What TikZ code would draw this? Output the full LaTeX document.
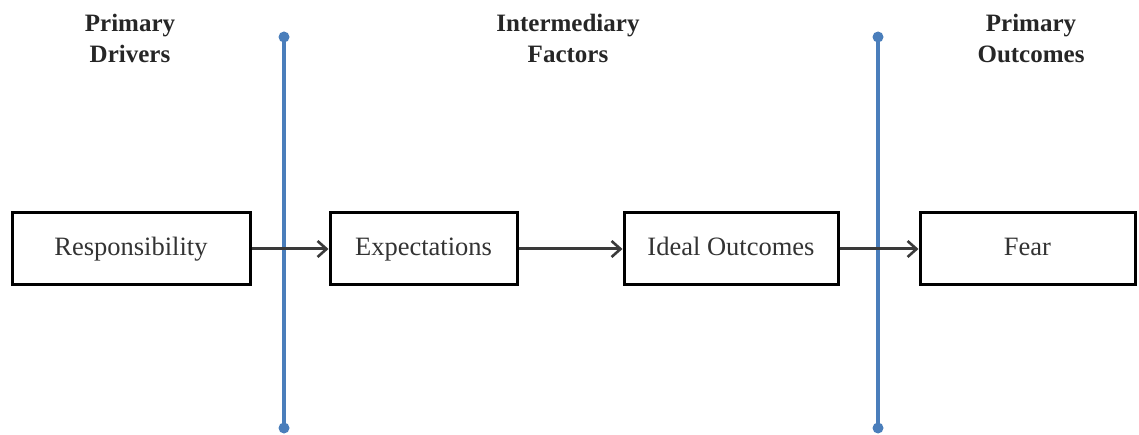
\documentclass[tikz,border=0pt]{standalone}
\usepackage{fontspec}
\setmainfont{Liberation Serif}
\usetikzlibrary{arrows.meta}
\definecolor{divider}{HTML}{4A7EBB}
\definecolor{linkgray}{HTML}{3A3A3A}
\begin{document}
\begin{tikzpicture}[x=1pt,y=-1pt,
  stage/.style={draw=black, line width=3pt, fill=white, inner sep=0pt,
    minimum height=72pt, text height=19pt, text depth=5pt,
    font=\fontsize{26.5}{30}\selectfont, text=black!80},
  heading/.style={align=center, font=\bfseries\fontsize{25}{31}\selectfont, text=black!85},
  link/.style={draw=linkgray, line width=3pt, -{Straight Barb[length=9pt,width=16pt,line width=2.6pt]}},
  divline/.style={draw=divider, line width=4pt},
  pin/.style={circle, fill=divider, inner sep=0pt, minimum size=11pt}]
\useasboundingbox (0,0) rectangle (1139,435);

% column headings
\node[heading] (hd1) at (130,38) {Primary\\Drivers};
\node[heading] (hd2) at (568,38) {Intermediary\\Factors};
\node[heading] (hd3) at (1031,38) {Primary\\Outcomes};

% dividers between the columns
\node[pin] (t1) at (284,37) {};
\node[pin] (b1) at (284,428) {};
\node[pin] (t2) at (878,37) {};
\node[pin] (b2) at (878,428) {};
\draw[divline] (t1.center) -- (b1.center);
\draw[divline] (t2.center) -- (b2.center);

% chain of factors
\node[stage, minimum width=238pt] (resp) at (131,249) {Responsibility};
\node[stage, minimum width=187pt] (exp)  at (423.5,249) {Expectations};
\node[stage, minimum width=214pt] (ideal) at (731,249) {Ideal Outcomes};
\node[stage, minimum width=215pt] (fear) at (1027.5,249) {Fear};

\draw[link] (resp.east) -- (exp.west);
\draw[link] (exp.east) -- (ideal.west);
\draw[link] (ideal.east) -- (fear.west);
\end{tikzpicture}
\end{document}
